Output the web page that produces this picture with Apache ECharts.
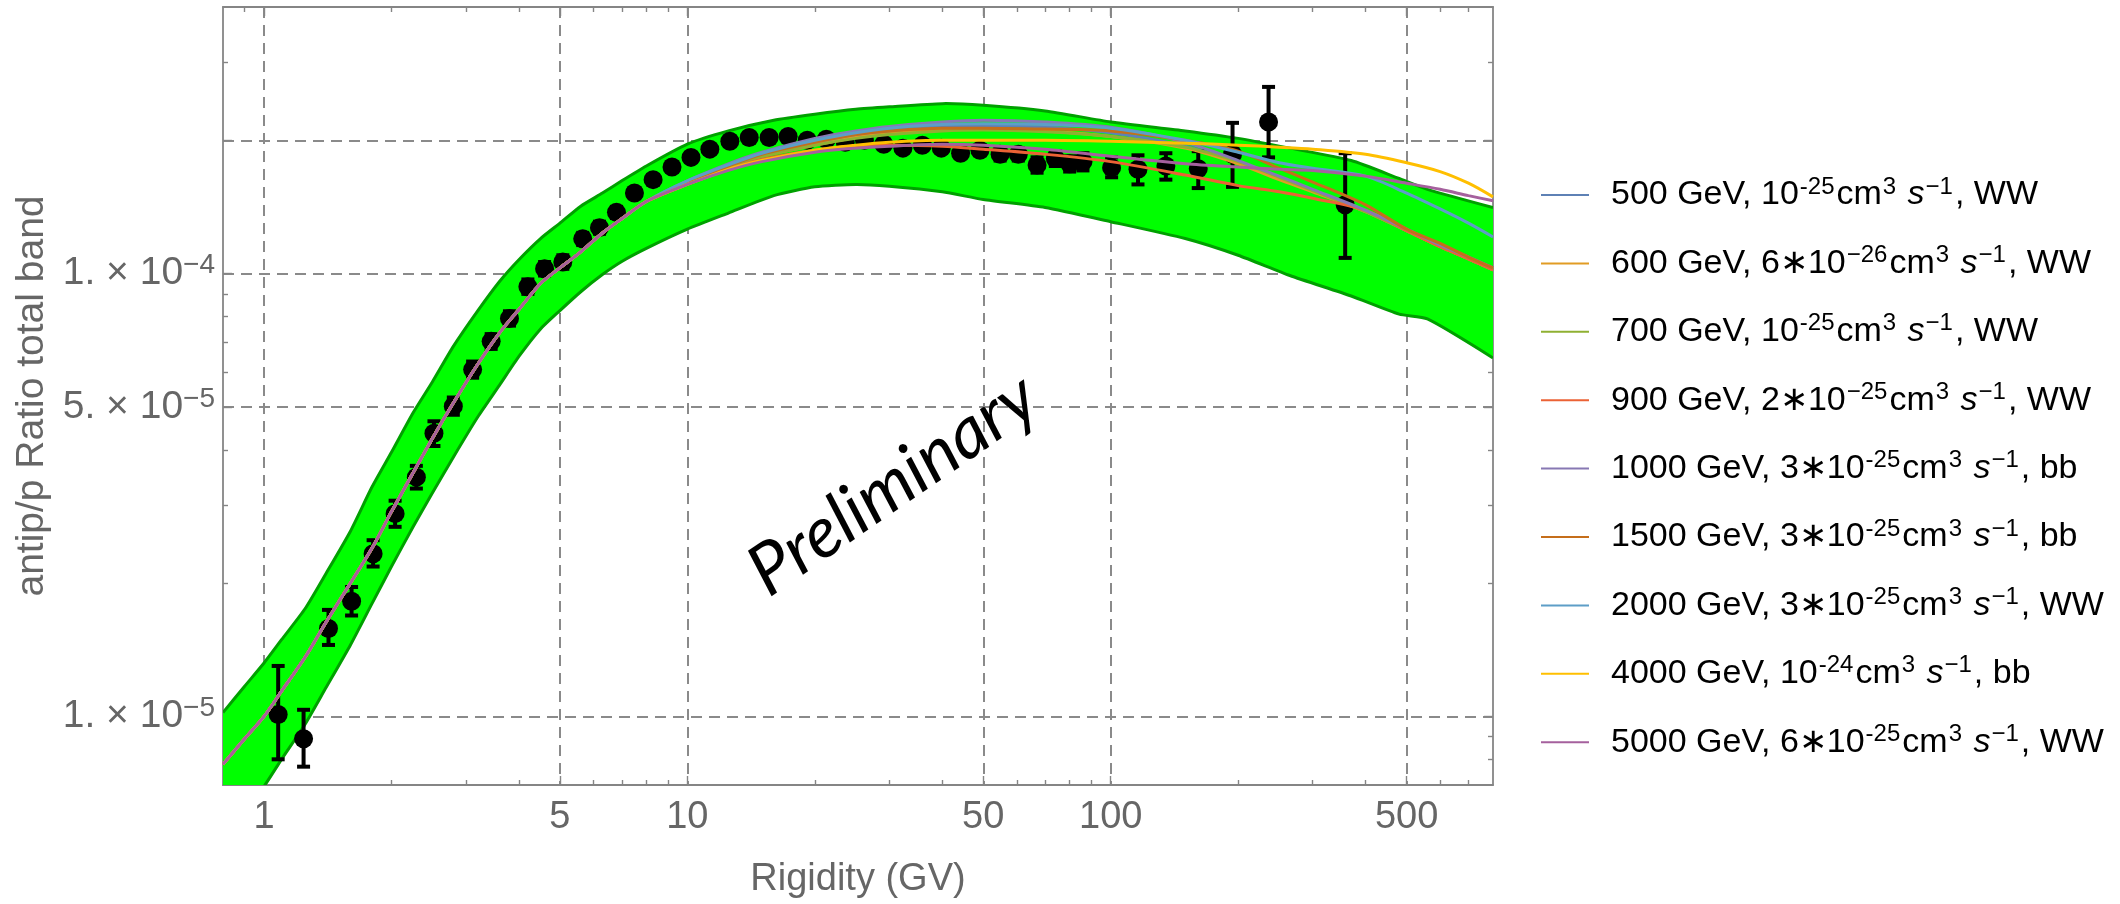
<!DOCTYPE html>
<html>
<head>
<meta charset="utf-8">
<script src="https://cdn.jsdelivr.net/npm/echarts@6/dist/echarts.min.js"></script>
<style>
html,body{margin:0;padding:0;background:#ffffff;}
#chart{width:2120px;height:904px;}
</style>
</head>
<body>
<div id="chart"></div>
<script>
// ---------- axis ticks ----------
const xTickLabels = [1, 5, 10, 50, 100, 500];
const xMinorTicks = [0.9, 2, 3, 4, 6, 7, 8, 9, 20, 30, 40, 60, 70, 80, 90, 200, 300, 400, 600, 700];
const yGridValues = [1e-5, 5e-5, 1e-4, 2e-4];
const yTickLabels = [1e-5, 5e-5, 1e-4];
const yMinorTicks = [8e-6, 9e-6, 2e-5, 3e-5, 4e-5, 6e-5, 7e-5, 8e-5, 9e-5, 3e-4];

// ---------- total uncertainty band ----------
const bandRigidity = [0.8, 0.9, 1, 1.1, 1.25, 1.4, 1.6, 1.8, 2, 2.25, 2.5, 2.8, 3.2, 3.6, 4, 4.5, 5, 5.6, 6.3, 7, 8, 10, 12.5, 16, 20, 25, 30, 40, 50, 70, 100, 150, 200, 265, 370, 480, 560, 800];
const bandUpper = [1.02e-5, 1.17e-5, 1.32e-5, 1.49e-5, 1.75e-5, 2.1e-5, 2.62e-5, 3.3e-5, 3.95e-5, 4.85e-5, 5.7e-5, 6.85e-5, 8.25e-5, 9.6e-5, 1.075e-4, 1.2e-4, 1.3e-4, 1.42e-4, 1.52e-4, 1.62e-4, 1.75e-4, 1.96e-4, 2.1e-4, 2.22e-4, 2.29e-4, 2.35e-4, 2.38e-4, 2.42e-4, 2.4e-4, 2.33e-4, 2.2e-4, 2.1e-4, 2.02e-4, 1.92e-4, 1.8e-4, 1.64e-4, 1.55e-4, 1.41e-4];
const bandLower = [5.3e-6, 6.1e-6, 6.95e-6, 8.0e-6, 9.6e-6, 1.16e-5, 1.45e-5, 1.8e-5, 2.18e-5, 2.68e-5, 3.2e-5, 3.85e-5, 4.75e-5, 5.6e-5, 6.5e-5, 7.5e-5, 8.25e-5, 9.1e-5, 9.95e-5, 1.065e-4, 1.14e-4, 1.26e-4, 1.37e-4, 1.5e-4, 1.57e-4, 1.59e-4, 1.575e-4, 1.53e-4, 1.47e-4, 1.41e-4, 1.31e-4, 1.2e-4, 1.1e-4, 9.9e-5, 8.9e-5, 8.1e-5, 7.9e-5, 6.45e-5];

// ---------- measured antiproton / proton ratio ----------
const dataRigidity = [1.08, 1.24, 1.42, 1.61, 1.81, 2.04, 2.29, 2.52, 2.8, 3.11, 3.44, 3.8, 4.2, 4.6, 5.08, 5.66, 6.2, 6.8, 7.5, 8.3, 9.2, 10.2, 11.3, 12.6, 14.0, 15.6, 17.3, 19.2, 21.3, 23.6, 26.2, 29.1, 32.3, 35.9, 39.8, 44.2, 49.1, 54.8, 60.5, 67, 74, 80, 86, 100.5, 116, 135, 161, 194, 236, 358];
const dataRatio = [1.01e-5, 8.9e-6, 1.58e-5, 1.82e-5, 2.33e-5, 2.87e-5, 3.47e-5, 4.36e-5, 5.02e-5, 6.07e-5, 7.03e-5, 7.92e-5, 9.34e-5, 1.026e-4, 1.062e-4, 1.198e-4, 1.27e-4, 1.375e-4, 1.52e-4, 1.63e-4, 1.74e-4, 1.83e-4, 1.91e-4, 1.99e-4, 2.03e-4, 2.03e-4, 2.04e-4, 2.0e-4, 2.01e-4, 1.98e-4, 2.0e-4, 1.96e-4, 1.92e-4, 1.95e-4, 1.92e-4, 1.87e-4, 1.9e-4, 1.86e-4, 1.86e-4, 1.76e-4, 1.82e-4, 1.77e-4, 1.79e-4, 1.735e-4, 1.72e-4, 1.75e-4, 1.725e-4, 1.86e-4, 2.2e-4, 1.43e-4];
const dataErrLow = [8.0e-6, 7.7e-6, 1.45e-5, 1.69e-5, 2.18e-5, 2.68e-5, 3.27e-5, 4.08e-5, 4.8e-5, 5.82e-5, 6.76e-5, 7.63e-5, 9.0e-5, 9.9e-5, 1.025e-4, 1.16e-4, 1.23e-4, 1.335e-4, 1.48e-4, 1.59e-4, 1.7e-4, 1.79e-4, 1.87e-4, 1.95e-4, 1.99e-4, 1.99e-4, 2.0e-4, 1.96e-4, 1.97e-4, 1.94e-4, 1.96e-4, 1.92e-4, 1.88e-4, 1.91e-4, 1.88e-4, 1.83e-4, 1.85e-4, 1.8e-4, 1.8e-4, 1.69e-4, 1.75e-4, 1.7e-4, 1.71e-4, 1.65e-4, 1.59e-4, 1.63e-4, 1.56e-4, 1.57e-4, 1.83e-4, 1.085e-4];
const dataErrHigh = [1.3e-5, 1.035e-5, 1.74e-5, 1.96e-5, 2.5e-5, 3.07e-5, 3.68e-5, 4.64e-5, 5.25e-5, 6.33e-5, 7.3e-5, 8.22e-5, 9.7e-5, 1.062e-4, 1.1e-4, 1.236e-4, 1.31e-4, 1.415e-4, 1.56e-4, 1.67e-4, 1.78e-4, 1.87e-4, 1.95e-4, 2.03e-4, 2.07e-4, 2.07e-4, 2.08e-4, 2.04e-4, 2.05e-4, 2.02e-4, 2.04e-4, 2.0e-4, 1.96e-4, 1.99e-4, 1.96e-4, 1.91e-4, 1.95e-4, 1.92e-4, 1.92e-4, 1.83e-4, 1.89e-4, 1.84e-4, 1.87e-4, 1.83e-4, 1.85e-4, 1.87e-4, 1.89e-4, 2.19e-4, 2.64e-4, 1.87e-4];

// ---------- DM models: common low-rigidity part + individual high-rigidity part ----------
const modelRigidityLow = [0.8, 0.9, 1, 1.1, 1.25, 1.4, 1.6, 1.8, 2, 2.25, 2.5, 2.8, 3.2, 3.6, 4, 4.5, 5, 5.6, 6.3, 7, 8];
const modelCommonLow = [7.8e-6, 8.9e-6, 1.0e-5, 1.14e-5, 1.36e-5, 1.63e-5, 2.0e-5, 2.4e-5, 2.9e-5, 3.55e-5, 4.25e-5, 5.1e-5, 6.25e-5, 7.35e-5, 8.3e-5, 9.5e-5, 1.03e-4, 1.12e-4, 1.235e-4, 1.33e-4, 1.455e-4];
const modelRigidityHigh = [10, 12.5, 15, 20, 25, 30, 40, 50, 70, 100, 150, 200, 250, 300, 400, 500, 600, 700, 800];
const model500 = [1.61e-4, 1.75e-4, 1.85e-4, 1.97e-4, 2.05e-4, 2.1e-4, 2.15e-4, 2.16e-4, 2.14e-4, 2.08e-4, 1.94e-4, 1.78e-4, 1.64e-4, 1.54e-4, 1.38e-4, 1.25e-4, 1.15e-4, 1.08e-4, 1.02e-4];
const model600 = [1.6e-4, 1.74e-4, 1.84e-4, 1.95e-4, 2.03e-4, 2.07e-4, 2.11e-4, 2.12e-4, 2.1e-4, 2.04e-4, 1.92e-4, 1.77e-4, 1.63e-4, 1.53e-4, 1.38e-4, 1.25e-4, 1.15e-4, 1.08e-4, 1.02e-4];
const model700 = [1.6e-4, 1.74e-4, 1.84e-4, 1.95e-4, 2.02e-4, 2.06e-4, 2.1e-4, 2.11e-4, 2.09e-4, 2.04e-4, 1.93e-4, 1.79e-4, 1.65e-4, 1.54e-4, 1.38e-4, 1.25e-4, 1.15e-4, 1.08e-4, 1.02e-4];
const model900 = [1.59e-4, 1.72e-4, 1.81e-4, 1.9e-4, 1.94e-4, 1.95e-4, 1.94e-4, 1.91e-4, 1.86e-4, 1.79e-4, 1.67e-4, 1.58e-4, 1.53e-4, 1.48e-4, 1.39e-4, 1.25e-4, 1.15e-4, 1.08e-4, 1.02e-4];
const model1000 = [1.62e-4, 1.77e-4, 1.88e-4, 2.02e-4, 2.1e-4, 2.15e-4, 2.2e-4, 2.22e-4, 2.2e-4, 2.14e-4, 1.98e-4, 1.8e-4, 1.66e-4, 1.55e-4, 1.39e-4, 1.26e-4, 1.16e-4, 1.09e-4, 1.03e-4];
const model1500 = [1.61e-4, 1.75e-4, 1.86e-4, 1.98e-4, 2.06e-4, 2.1e-4, 2.13e-4, 2.13e-4, 2.12e-4, 2.1e-4, 2.0e-4, 1.89e-4, 1.73e-4, 1.61e-4, 1.43e-4, 1.26e-4, 1.17e-4, 1.09e-4, 1.03e-4];
const model2000 = [1.62e-4, 1.76e-4, 1.87e-4, 2.0e-4, 2.08e-4, 2.13e-4, 2.17e-4, 2.18e-4, 2.17e-4, 2.13e-4, 2.0e-4, 1.88e-4, 1.78e-4, 1.73e-4, 1.66e-4, 1.52e-4, 1.4e-4, 1.3e-4, 1.21e-4];
const model4000 = [1.59e-4, 1.72e-4, 1.8e-4, 1.9e-4, 1.95e-4, 1.98e-4, 2.0e-4, 2.0e-4, 2.0e-4, 1.99e-4, 1.97e-4, 1.95e-4, 1.93e-4, 1.91e-4, 1.86e-4, 1.78e-4, 1.7e-4, 1.6e-4, 1.49e-4];
const model5000 = [1.59e-4, 1.71e-4, 1.79e-4, 1.88e-4, 1.92e-4, 1.94e-4, 1.96e-4, 1.95e-4, 1.91e-4, 1.84e-4, 1.77e-4, 1.74e-4, 1.72e-4, 1.71e-4, 1.66e-4, 1.6e-4, 1.55e-4, 1.5e-4, 1.46e-4];

const seriesNames = ['500 GeV WW', '600 GeV WW', '700 GeV WW', '900 GeV WW', '1000 GeV bb', '1500 GeV bb', '2000 GeV WW', '4000 GeV bb', '5000 GeV WW'];
const seriesColors = ['#5E81B5', '#E19C24', '#8FB032', '#EB6235', '#8778B3', '#C56E1A', '#5D9EC7', '#FFBF00', '#A5609D'];
const seriesHigh = [model500, model600, model700, model900, model1000, model1500, model2000, model4000, model5000];
const legendLabels = [
  '500 GeV, 10{sup|-25}cm{sup|3} {it|s}{sup|−1}, WW',
  '600 GeV, 6∗10{sup|−26}cm{sup|3} {it|s}{sup|−1}, WW',
  '700 GeV, 10{sup|-25}cm{sup|3} {it|s}{sup|−1}, WW',
  '900 GeV, 2∗10{sup|−25}cm{sup|3} {it|s}{sup|−1}, WW',
  '1000 GeV, 3∗10{sup|-25}cm{sup|3} {it|s}{sup|−1}, bb',
  '1500 GeV, 3∗10{sup|-25}cm{sup|3} {it|s}{sup|−1}, bb',
  '2000 GeV, 3∗10{sup|-25}cm{sup|3} {it|s}{sup|−1}, WW',
  '4000 GeV, 10{sup|-24}cm{sup|3} {it|s}{sup|−1}, bb',
  '5000 GeV, 6∗10{sup|-25}cm{sup|3} {it|s}{sup|−1}, WW'
];

// ---------- styling ----------
const FONT = '"Liberation Sans", Arial, Helvetica, sans-serif';
const frameColor = '#858585';
const labelColor = '#666666';
const gridStyle = {type: [11, 7], color: '#8a8a8a', width: 2};

function sciLabel(v) {
  const e = Math.floor(Math.log10(v) + 1e-9);
  const m = Math.round(v / Math.pow(10, e));
  return '{m|' + m + '. × 10}{sup|−' + (-e) + '}';
}

function logAxis(dir, pos, opts) {
  const isX = dir === 'x';
  const base = {
    type: 'log', logBase: 10,
    min: isX ? 0.8 : 7e-6,
    max: isX ? 800 : 4e-4,
    position: pos,
    axisLine: {show: !!opts.line, onZero: false, lineStyle: {color: frameColor, width: 1.8}},
    axisTick: {show: true, inside: true, length: opts.len, customValues: opts.ticks, lineStyle: {color: frameColor, width: 1.4}},
    axisLabel: {show: false},
    splitLine: {show: false},
    minorTick: {show: false},
    minorSplitLine: {show: false},
    silent: true
  };
  return Object.assign(base, opts.extra || {});
}

const chart = echarts.init(document.getElementById('chart'), null, {renderer: 'canvas'});

const bandData = bandRigidity.map((r, i) => [r, bandUpper[i], bandLower[i]]);
const pointData = dataRigidity.map((r, i) => [r, dataRatio[i]]);
const errData = dataRigidity.map((r, i) => [r, dataErrLow[i], dataErrHigh[i]]);

function renderBand(params, api) {
  if (params.dataIndex !== 0) return;
  const up = bandRigidity.map((r, i) => api.coord([r, bandUpper[i]]));
  const lo = bandRigidity.map((r, i) => api.coord([r, bandLower[i]]));
  const cs = params.coordSys;
  return {
    type: 'group',
    clipPath: {type: 'rect', shape: {x: cs.x, y: cs.y, width: cs.width, height: cs.height}},
    children: [
      {type: 'polygon', shape: {points: up.concat(lo.slice().reverse())}, style: {fill: '#00ff00', stroke: null}},
      {type: 'polyline', shape: {points: up, smooth: 0.2}, style: {stroke: '#00a000', lineWidth: 3, fill: null}},
      {type: 'polyline', shape: {points: lo, smooth: 0.2}, style: {stroke: '#00a000', lineWidth: 3, fill: null}}
    ]
  };
}

function renderErr(params, api) {
  const r = api.value(0);
  const top = api.coord([r, api.value(2)]);
  const bot = api.coord([r, api.value(1)]);
  const hw = 6.5;
  const st = {stroke: '#000000', lineWidth: 4};
  return {
    type: 'group',
    children: [
      {type: 'line', shape: {x1: top[0], y1: top[1], x2: bot[0], y2: bot[1]}, style: st},
      {type: 'line', shape: {x1: top[0] - hw, y1: top[1], x2: top[0] + hw, y2: top[1]}, style: st},
      {type: 'line', shape: {x1: bot[0] - hw, y1: bot[1], x2: bot[0] + hw, y2: bot[1]}, style: st}
    ]
  };
}

const modelSeries = seriesNames.map((name, k) => ({
  type: 'line',
  name: name,
  data: modelRigidityLow.map((r, i) => [r, modelCommonLow[i]])
        .concat(modelRigidityHigh.map((r, i) => [r, seriesHigh[k][i]])),
  showSymbol: false,
  symbol: 'none',
  smooth: 0.3,
  clip: true,
  color: seriesColors[k],
  lineStyle: {width: 3, color: seriesColors[k]},
  itemStyle: {color: seriesColors[k]},
  z: 5,
  silent: true
}));

const option = {
  animation: false,
  backgroundColor: '#ffffff',
  grid: {left: 223, top: 7, width: 1270, height: 785, containLabel: false},
  xAxis: [
    logAxis('x', 'bottom', {line: true, len: 9, ticks: xTickLabels, extra: {
      axisLabel: {show: true, customValues: xTickLabels, formatter: v => String(v), margin: 14,
                  fontSize: 38, color: labelColor, fontFamily: FONT},
      splitLine: {show: true, lineStyle: gridStyle},
      name: 'Rigidity (GV)', nameLocation: 'middle', nameGap: 76,
      nameTextStyle: {fontSize: 38, color: labelColor, fontFamily: FONT}
    }}),
    logAxis('x', 'bottom', {line: false, len: 5, ticks: xMinorTicks}),
    logAxis('x', 'top', {line: true, len: 9, ticks: xTickLabels}),
    logAxis('x', 'top', {line: false, len: 5, ticks: xMinorTicks})
  ],
  yAxis: [
    logAxis('y', 'left', {line: true, len: 9, ticks: yGridValues, extra: {
      axisLabel: {show: true, customValues: yTickLabels, formatter: sciLabel, margin: 8,
                  color: labelColor, fontFamily: FONT,
                  rich: {
                    m: {fontSize: 39, lineHeight: 44, color: labelColor, fontFamily: FONT},
                    sup: {fontSize: 28, lineHeight: 8, verticalAlign: 'top', color: labelColor, fontFamily: FONT}
                  }},
      splitLine: {show: true, lineStyle: gridStyle},
      name: 'antip/p Ratio total band', nameLocation: 'middle', nameRotate: 90, nameGap: 165,
      nameTextStyle: {fontSize: 39, color: labelColor, fontFamily: FONT}
    }}),
    logAxis('y', 'left', {line: false, len: 5, ticks: yMinorTicks}),
    logAxis('y', 'right', {line: true, len: 9, ticks: yGridValues}),
    logAxis('y', 'right', {line: false, len: 5, ticks: yMinorTicks})
  ],
  legend: {
    orient: 'vertical',
    left: 1541,
    top: 175,
    padding: 0,
    itemWidth: 48,
    itemHeight: 2,
    itemGap: 28.4,
    icon: 'rect',
    selectedMode: false,
    data: seriesNames,
    formatter: name => legendLabels[seriesNames.indexOf(name)],
    textStyle: {
      fontSize: 34, lineHeight: 40, color: '#000000', fontFamily: FONT, padding: [0, 0, 0, 17],
      rich: {
        sup: {fontSize: 24, lineHeight: 30, verticalAlign: 'top', color: '#000000', fontFamily: FONT, padding: [0, 2, 0, 1]},
        it: {fontSize: 34, lineHeight: 40, fontStyle: 'italic', color: '#000000', fontFamily: FONT}
      }
    }
  },
  graphic: [{
    type: 'text',
    x: 893, y: 485,
    rotation: 34.5 * Math.PI / 180,
    z: 100,
    silent: true,
    style: {
      text: 'Preliminary',
      fontSize: 71, fontStyle: 'italic', fontFamily: 'Lato, "Open Sans", sans-serif',
      fill: '#000000',
      align: 'center', verticalAlign: 'middle',
      textAlign: 'center', textVerticalAlign: 'middle'
    }
  }],
  series: [
    {
      type: 'custom', name: 'band', data: bandData,
      encode: {x: 0, y: [1, 2]},
      renderItem: renderBand, z: 1, silent: true
    },
    {
      type: 'custom', name: 'errors', data: errData,
      encode: {x: 0, y: [1, 2]},
      renderItem: renderErr, z: 2, silent: true
    },
    {
      type: 'scatter', name: 'data', data: pointData,
      symbol: 'circle', symbolSize: 19,
      itemStyle: {color: '#000000', opacity: 1}, z: 3, silent: true
    }
  ].concat(modelSeries)
};

chart.setOption(option);
</script>
</body>
</html>
